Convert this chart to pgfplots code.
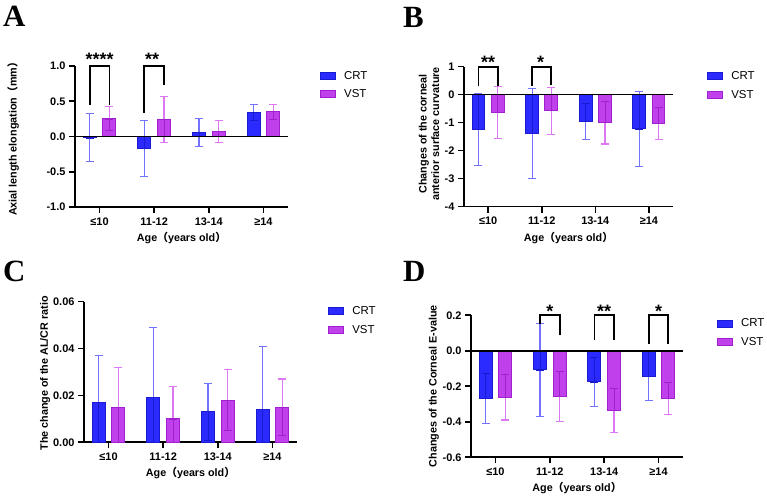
\documentclass[border=0pt]{standalone}
\usepackage{fontspec}
\setmainfont{Liberation Sans}
\newfontfamily\letterfont{Liberation Serif}
\newfontfamily\cjk{Noto Sans CJK SC}
\usepackage{pgfplots}
\usepackage{pgfplotstable}
\pgfplotsset{compat=1.18}

\definecolor{crtfill}{HTML}{2B2BFF}
\definecolor{crtedge}{HTML}{1A1AD0}
\definecolor{crterr}{HTML}{7272FF}
\definecolor{vstfill}{HTML}{C040EC}
\definecolor{vstedge}{HTML}{A020D0}
\definecolor{vsterr}{HTML}{DC78F2}

\newcommand{\agelabel}{Age{\cjk （}years old{\cjk ）}}

% mean and SD per age group
\pgfplotstableread{
x crt crtsd vst vstsd
0 -0.02 0.34 0.25 0.17
1 -0.17 0.40 0.24 0.33
2 0.06 0.20 0.07 0.16
3 0.34 0.11 0.35 0.11
}\dataA
\pgfplotstableread{
x crt crtsd vst vstsd
0 -1.24 1.28 -0.64 0.93
1 -1.38 1.60 -0.57 0.84
2 -0.95 0.64 -1.00 0.76
3 -1.22 1.35 -1.02 0.58
}\dataB
\pgfplotstableread{
x crt crtsd vst vstsd
0 0.017 0.020 0.015 0.017
1 0.019 0.030 0.010 0.014
2 0.013 0.012 0.018 0.013
3 0.014 0.027 0.015 0.012
}\dataC
\pgfplotstableread{
x crt crtsd vst vstsd
0 -0.268 0.142 -0.262 0.128
1 -0.108 0.263 -0.258 0.142
2 -0.175 0.140 -0.335 0.125
3 -0.142 0.138 -0.268 0.090
}\dataD

\tikzset{
  stars/.style={anchor=base, font=\bfseries\fontsize{18}{18}\selectfont},
  bracket/.style={line width=1.8bp, black},
}

\pgfplotsset{
  panel/.style={
    scale only axis,
    anchor=south west,
    axis x line*=bottom, axis y line*=left,
    axis line style={line width=1.6bp, black},
    every tick/.style={line width=1.6bp, black},
    major tick length=6bp,
    tick align=outside,
    xmin=-0.45, xmax=3.45,
    xtick={0,1,2,3},
    xticklabels={≤10,11-12,13-14,≥14},
    scaled y ticks=false,
    /pgf/number format/assume math mode=true,
    ticklabel style={font=\bfseries\fontsize{11}{12}\selectfont},
    xticklabel style={yshift=-1bp},
    label style={font=\bfseries\fontsize{10.8}{12.5}\selectfont},
    xlabel={\agelabel},
    legend style={draw=none, fill=none, anchor=north west, inner sep=0pt,
      font=\fontsize{11.5}{13}\selectfont, row sep=5bp,
      nodes={inner sep=2bp},
      /tikz/every odd column/.append style={column sep=6bp}},
    legend cell align=left,
    legend image code/.code={\draw[##1, line width=1bp] (0bp,-3.5bp) rectangle (15bp,3.5bp);},
  },
  whisker/.style={forget plot, mark=none, draw=#1, draw opacity=0,
    error bars/.cd, y dir=both, y explicit,
    error bar style={line width=1.1bp, draw=#1, draw opacity=1},
    error mark=-,
    error mark options={rotate=90, line width=1.1bp, mark size=4bp, draw=#1, draw opacity=1}},
  inwhisker/.style={forget plot, mark=none, draw=#1, draw opacity=0,
    error bars/.cd, y dir=both, y explicit,
    error bar style={line width=0.7bp, draw=#1, draw opacity=1},
    error mark=-,
    error mark options={rotate=90, line width=0.7bp, mark size=4bp, draw=#1, draw opacity=1}},
}

% one group of bars: table, mean column, sd column, shift, whisker, fill, edge
\newcommand{\series}[7]{%
  \addplot[whisker=#5]
    table[x expr=\thisrow{x}+#4, y=#2, y error=#3]{#1};
  \addplot[ybar, bar width=0.24, bar shift=#4, fill=#6, draw=#7, line width=1bp]
    table[x=x, y=#2]{#1};
  \addplot[inwhisker=#7]
    table[x expr=\thisrow{x}+#4, y=#2,
      y error plus expr={max(0,min(\thisrow{#3},-\thisrow{#2}))},
      y error minus expr={max(0,min(\thisrow{#3},\thisrow{#2}))}]{#1};
}

\begin{document}
\begin{tikzpicture}[x=1bp, y=1bp]
\useasboundingbox (0,0) rectangle (767,498);

% panel letters
\node[font=\letterfont\bfseries\fontsize{31}{31}\selectfont, anchor=base west, inner sep=0pt] at (3,471) {A};
\node[font=\letterfont\bfseries\fontsize{31}{31}\selectfont, anchor=base west, inner sep=0pt] at (403,470) {B};
\node[font=\letterfont\bfseries\fontsize{31}{31}\selectfont, anchor=base west, inner sep=0pt] at (3,216) {C};
\node[font=\letterfont\bfseries\fontsize{31}{31}\selectfont, anchor=base west, inner sep=0pt] at (403,216) {D};

% A: axial length elongation
\begin{axis}[panel, at={(75bp,291bp)}, width=213bp, height=141bp,
  ymin=-1, ymax=1, ytick={-1,-0.5,0,0.5,1},
  yticklabel style={/pgf/number format/.cd, fixed, fixed zerofill, precision=1},
  ylabel={Axial length elongation{\cjk （}mm{\cjk ）}},
  ylabel style={at={(axis description cs:-0.29,0.5)}, anchor=center},
  xlabel style={at={(axis description cs:0.5,-0.22)}, anchor=center},
  clip=false,
  legend style={at={(axis description cs:1.15,0.98)}}]
\series{\dataA}{crt}{crtsd}{-0.18}{crterr}{crtfill}{crtedge}
\addlegendentry{CRT}
\series{\dataA}{vst}{vstsd}{0.18}{vsterr}{vstfill}{vstedge}
\addlegendentry{VST}
\draw[line width=1.5bp] (axis cs:-0.45,0) -- (axis cs:3.45,0);
\draw[bracket] (axis cs:-0.18,0.45) |- (axis cs:0,1) -| (axis cs:0.18,0.45);
\draw[bracket] (axis cs:0.82,0.33) |- (axis cs:1,1) -| (axis cs:1.18,0.73);
\node[stars] at (axis cs:0,1.0) {****};
\node[stars] at (axis cs:0.96,1.0) {**};
\end{axis}

% B: corneal anterior surface curvature
\begin{axis}[panel, at={(464bp,291.3bp)}, width=209bp, height=140bp,
  ymin=-4, ymax=1, ytick={-4,-3,-2,-1,0,1},
  ylabel={Changes of the corneal\\anterior surface curvature},
  ylabel style={at={(axis description cs:-0.167,0.52)}, anchor=center, align=center},
  xlabel style={at={(axis description cs:0.5,-0.224)}, anchor=center},
  clip=false,
  legend style={at={(axis description cs:1.163,0.98)}}]
\series{\dataB}{crt}{crtsd}{-0.18}{crterr}{crtfill}{crtedge}
\addlegendentry{CRT}
\series{\dataB}{vst}{vstsd}{0.18}{vsterr}{vstfill}{vstedge}
\addlegendentry{VST}
\draw[line width=1.5bp] (axis cs:-0.45,0) -- (axis cs:3.45,0);
\draw[bracket] (axis cs:-0.18,0.3) |- (axis cs:0,1) -| (axis cs:0.18,0.32);
\draw[bracket] (axis cs:0.82,0.3) |- (axis cs:1,1) -| (axis cs:1.18,0.35);
\node[stars] at (axis cs:0,0.92) {**};
\node[stars] at (axis cs:0.98,0.92) {*};
\end{axis}

% C: AL/CR ratio
\begin{axis}[panel, at={(84bp,55.7bp)}, width=213bp, height=140.6bp,
  ymin=0, ymax=0.06, ytick={0,0.02,0.04,0.06},
  yticklabel style={/pgf/number format/.cd, fixed, fixed zerofill, precision=2},
  ylabel={The change of the AL/CR ratio},
  ylabel style={at={(axis description cs:-0.183,0.49)}, anchor=center},
  xlabel style={at={(axis description cs:0.5,-0.218)}, anchor=center},
  legend style={at={(axis description cs:1.146,0.98)}}]
\series{\dataC}{crt}{crtsd}{-0.18}{crterr}{crtfill}{crtedge}
\addlegendentry{CRT}
\series{\dataC}{vst}{vstsd}{0.18}{vsterr}{vstfill}{vstedge}
\addlegendentry{VST}
\end{axis}

% D: corneal E-value
\begin{axis}[panel, at={(471bp,40.7bp)}, width=212bp, height=142bp,
  ymin=-0.6, ymax=0.2, ytick={-0.6,-0.4,-0.2,0,0.2},
  yticklabel style={/pgf/number format/.cd, fixed, fixed zerofill, precision=1},
  ylabel={Changes of the Corneal E-value},
  ylabel style={at={(axis description cs:-0.175,0.5)}, anchor=center},
  xlabel style={at={(axis description cs:0.5,-0.216)}, anchor=center},
  clip=false,
  legend style={at={(axis description cs:1.16,0.99)}}]
\series{\dataD}{crt}{crtsd}{-0.18}{crterr}{crtfill}{crtedge}
\addlegendentry{CRT}
\series{\dataD}{vst}{vstsd}{0.18}{vsterr}{vstfill}{vstedge}
\addlegendentry{VST}
\draw[line width=1.5bp] (axis cs:-0.45,0) -- (axis cs:3.45,0);
\draw[bracket] (axis cs:0.82,0.15) |- (axis cs:1,0.2) -| (axis cs:1.18,0.09);
\draw[bracket] (axis cs:1.82,0.06) |- (axis cs:2,0.2) -| (axis cs:2.18,0.06);
\draw[bracket] (axis cs:2.82,0.04) |- (axis cs:3,0.2) -| (axis cs:3.18,0.04);
\node[stars] at (axis cs:1,0.19) {*};
\node[stars] at (axis cs:2,0.19) {**};
\node[stars] at (axis cs:3,0.19) {*};
\end{axis}
\end{tikzpicture}
\end{document}
